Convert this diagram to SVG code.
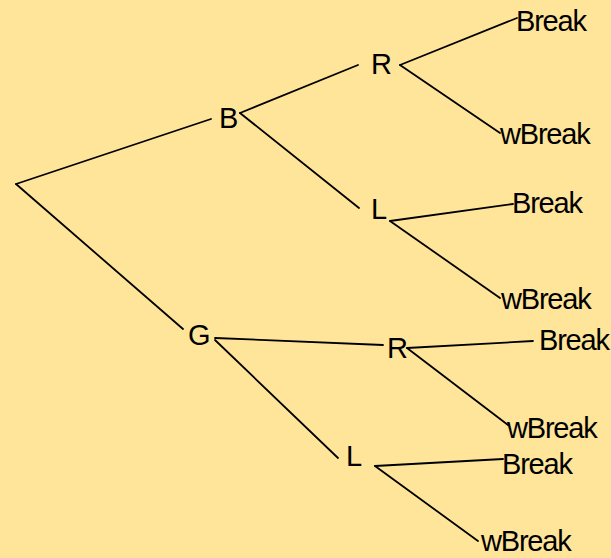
<svg xmlns="http://www.w3.org/2000/svg" width="611" height="558" viewBox="0 0 611 558">
<style>
.bg{fill:#fee59a}
.c line{stroke:#000;stroke-width:1.8;stroke-linecap:round}
text{font-family:"Liberation Sans",Arial,sans-serif;font-size:29px;fill:#000;letter-spacing:-1.2px}
</style>
<rect class="bg" x="0" y="0" width="611" height="558"/>
<g id="connectors" class="c">
<line x1="16" y1="184" x2="211" y2="119"/>
<line x1="16" y1="184" x2="183" y2="329"/>
<line x1="240" y1="113" x2="358" y2="65"/>
<line x1="240" y1="113" x2="359" y2="208"/>
<line x1="400" y1="65" x2="517" y2="18"/>
<line x1="400" y1="65" x2="500" y2="133"/>
<line x1="390" y1="221" x2="513" y2="204"/>
<line x1="390" y1="221" x2="500" y2="298"/>
<line x1="215" y1="338" x2="383" y2="345"/>
<line x1="215" y1="340" x2="338" y2="458"/>
<line x1="407" y1="348" x2="533" y2="341"/>
<line x1="407" y1="348" x2="508" y2="425"/>
<line x1="375" y1="466" x2="503" y2="459"/>
<line x1="375" y1="466" x2="478" y2="541"/>
</g>
<g id="B"><text x="219" y="128">B</text></g>
<g id="G"><text x="188" y="345">G</text></g>
<g id="R1"><text x="371" y="74">R</text></g>
<g id="L1"><text x="371" y="219">L</text></g>
<g id="R2"><text x="387" y="358">R</text></g>
<g id="L2"><text x="346" y="466">L</text></g>
<g id="Break1"><text x="516" y="31">Break</text></g>
<g id="wBreak1"><text x="500" y="144">wBreak</text></g>
<g id="Break2"><text x="512" y="213">Break</text></g>
<g id="wBreak2"><text x="501" y="309">wBreak</text></g>
<g id="Break3"><text x="539" y="350">Break</text></g>
<g id="wBreak3"><text x="507" y="438">wBreak</text></g>
<g id="Break4"><text x="502" y="474">Break</text></g>
<g id="wBreak4"><text x="481" y="551">wBreak</text></g>
</svg>
